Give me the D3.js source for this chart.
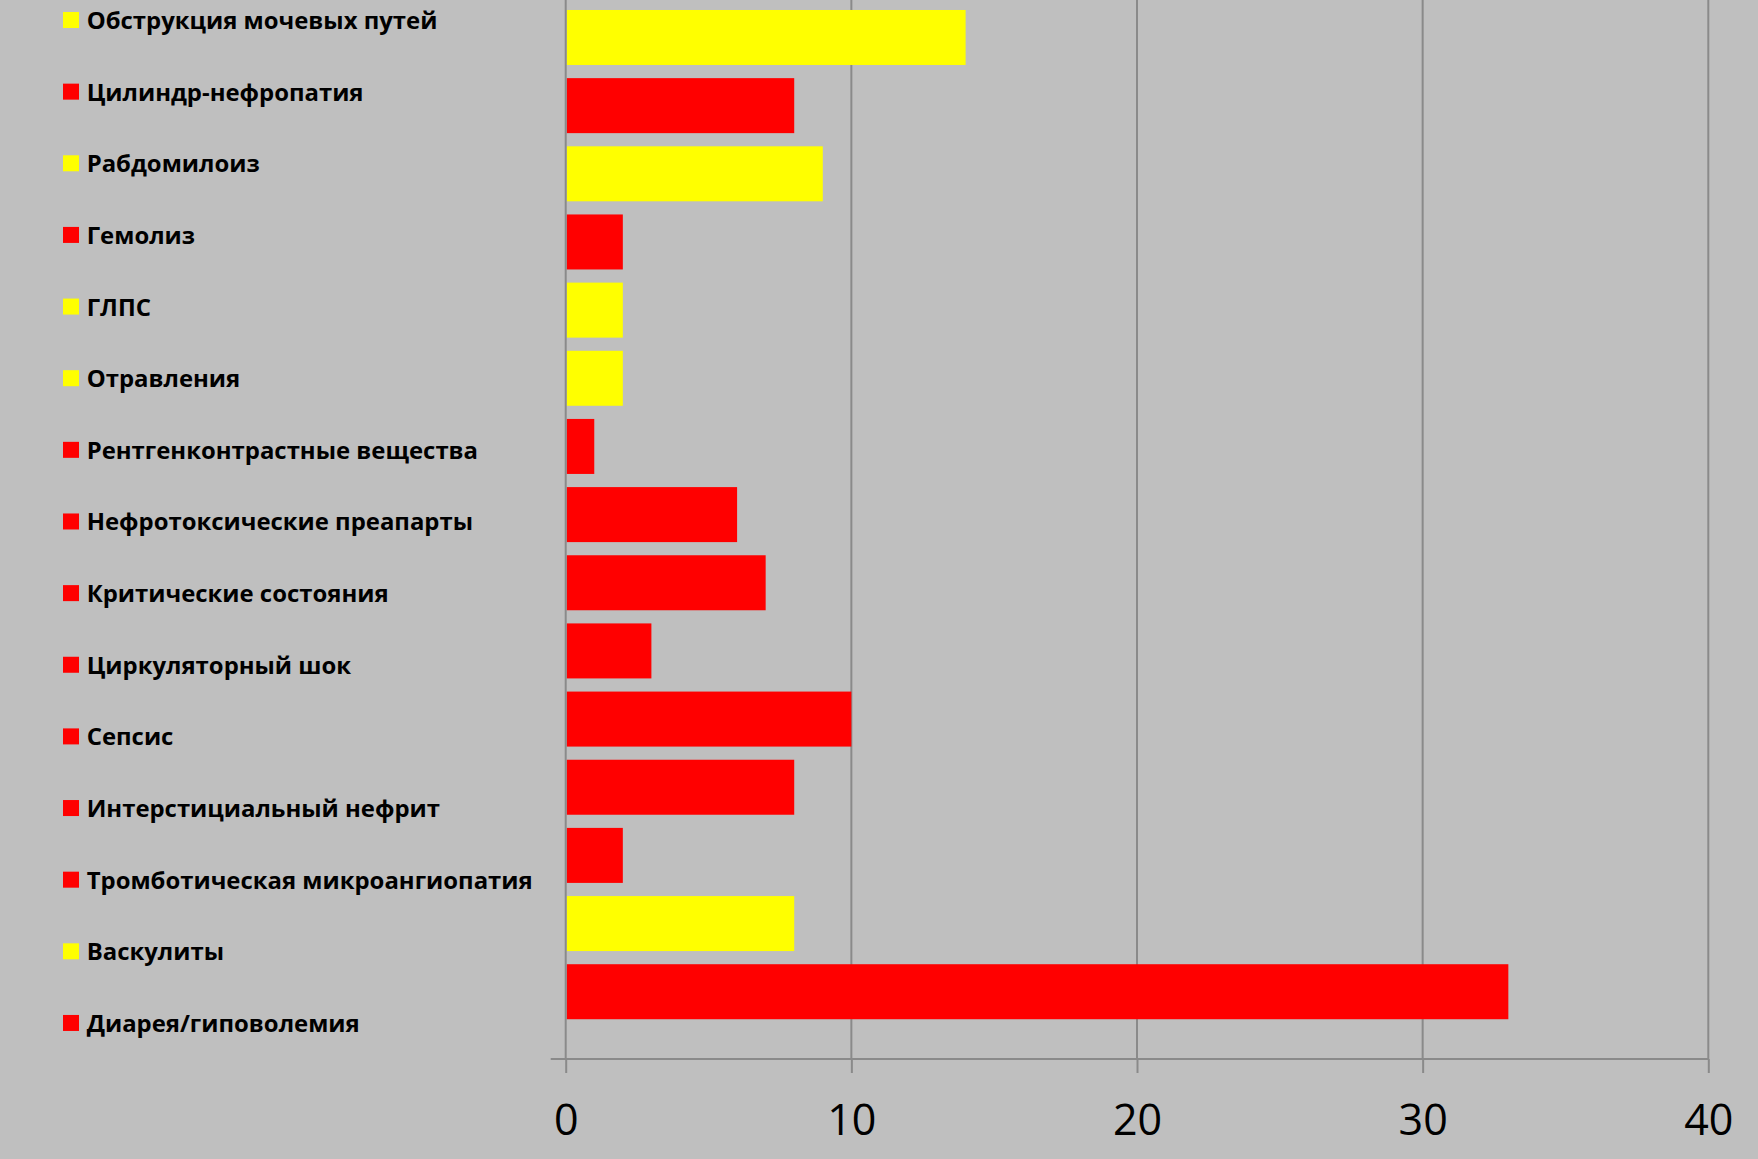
<!DOCTYPE html>
<html lang="ru">
<head>
<meta charset="utf-8">
<script src="https://cdn.jsdelivr.net/npm/d3@7"></script>
<style>
  html, body { margin: 0; padding: 0; background: #bfbfbf; }
  svg { display: block; }
</style>
</head>
<body>
<svg id="chart" width="1758" height="1159"></svg>
<script>
// Causes of acute kidney injury, number of cases (top to bottom)
const categories = [
  "Обструкция мочевых путей",
  "Цилиндр-нефропатия",
  "Рабдомилоиз",
  "Гемолиз",
  "ГЛПС",
  "Отравления",
  "Рентгенконтрастные вещества",
  "Нефротоксические преапарты",
  "Критические состояния",
  "Циркуляторный шок",
  "Сепсис",
  "Интерстициальный нефрит",
  "Тромботическая микроангиопатия",
  "Васкулиты",
  "Диарея/гиповолемия"
];
const values = [14, 8, 9, 2, 2, 2, 1, 6, 7, 3, 10, 8, 2, 8, 33];
// group of each cause: "r" = red, "y" = yellow
const groups = ["y", "r", "y", "r", "y", "y", "r", "r", "r", "r", "r", "r", "r", "y", "r"];
const xTicks = [0, 10, 20, 30, 40];

const palette = { r: "#ff0000", y: "#ffff00" };

const svg = d3.select("#chart");

// plot geometry
const x0 = 565.7, x1 = 1708.3;
const axisY = 1059;
const bandTop = 3.4, bandBottom = 1025.8;

const x = d3.scaleLinear().domain([0, 40]).range([x0, x1]);
const y = d3.scaleBand()
  .domain(categories)
  .range([bandTop, bandBottom])
  .paddingInner(0.193)
  .paddingOuter(0.0965);

// vertical gridlines
svg.append("g")
  .selectAll("line")
  .data(xTicks.slice(1))
  .join("line")
  .attr("x1", d => x(d)).attr("x2", d => x(d))
  .attr("y1", 0).attr("y2", axisY)
  .attr("stroke", "#8a8a8a")
  .attr("stroke-width", 2);

// bars
svg.append("g")
  .selectAll("rect")
  .data(categories)
  .join("rect")
  .attr("x", x(0) + 1)
  .attr("y", d => y(d))
  .attr("height", y.bandwidth())
  .attr("width", (d, i) => Math.max(0, x(values[i]) - x(0) - 1))
  .attr("fill", (d, i) => palette[groups[i]]);

// vertical (category) axis line
svg.append("line")
  .attr("x1", x0).attr("x2", x0)
  .attr("y1", 0).attr("y2", axisY)
  .attr("stroke", "#8a8a8a")
  .attr("stroke-width", 2);

// horizontal value axis with ticks and labels
const xAxis = d3.axisBottom(x)
  .tickValues(xTicks)
  .tickSize(14)
  .tickPadding(0)
  .tickFormat(d3.format("d"));

const gx = svg.append("g")
  .attr("transform", `translate(0,${axisY})`)
  .call(xAxis);
gx.select(".domain").remove();
gx.selectAll(".tick line")
  .attr("stroke", "#8a8a8a")
  .attr("stroke-width", 2);
gx.selectAll(".tick text")
  .attr("fill", "#000")
  .attr("font-family", "'Open Sans', 'Noto Sans', sans-serif")
  .attr("font-size", 43)
  .attr("dy", null)
  .attr("y", 76);

svg.append("line")
  .attr("x1", x0 - 15).attr("x2", x1)
  .attr("y1", axisY).attr("y2", axisY)
  .attr("stroke", "#8a8a8a")
  .attr("stroke-width", 2);

// legend on the left
const legendTop = 29, legendStep = 71.64;
const legend = svg.append("g")
  .selectAll("g")
  .data(categories)
  .join("g")
  .attr("transform", (d, i) => `translate(0,${legendTop + i * legendStep})`);

legend.append("rect")
  .attr("x", 63).attr("y", -17)
  .attr("width", 16).attr("height", 16)
  .attr("fill", (d, i) => palette[groups[i]]);

legend.append("text")
  .attr("x", 86.7)
  .attr("y", 0)
  .attr("font-family", "'Open Sans', 'Noto Sans', sans-serif")
  .attr("font-weight", 700)
  .attr("font-size", 23.9)
  .attr("fill", "#000")
  .text(d => d);
</script>
</body>
</html>
